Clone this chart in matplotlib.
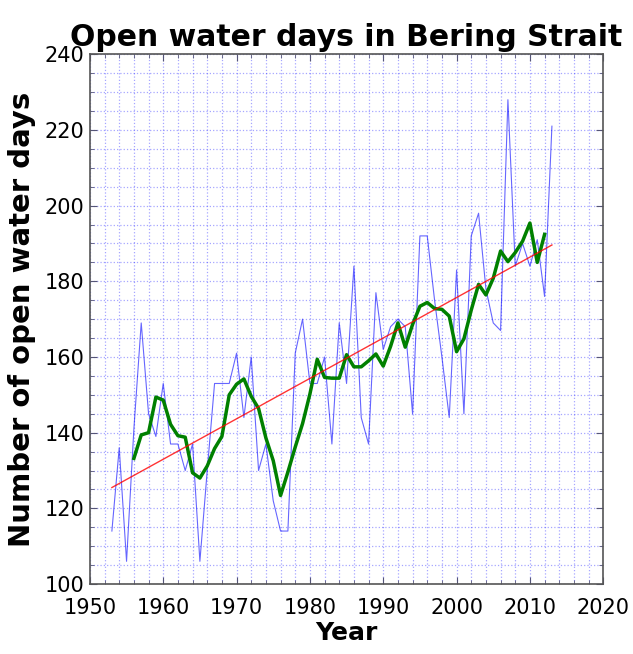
import matplotlib
matplotlib.use('Agg')
import matplotlib.pyplot as plt
from matplotlib.ticker import MultipleLocator

years = list(range(1953, 2014))
open_days = [114, 136, 106, 141, 169, 145, 139, 153, 137, 137,
             130, 137, 106, 130, 153, 153, 153, 161, 144, 160,
             130, 137, 122, 114, 114, 161, 170, 153, 153, 160,
             137, 169, 153, 184, 144, 137, 177, 162, 168, 170,
             168, 145, 192, 192, 175, 160, 144, 183, 145, 192,
             198, 178, 169, 167, 228, 184, 190, 184, 191, 176,
             221]

# smoothed curve
smooth_years = list(range(1956, 2013))
smooth_days = [133.2, 139.4, 140.0, 149.4, 148.6, 142.2, 139.2, 138.8, 129.4, 128.0,
               131.2, 135.8, 139.0, 150.0, 152.8, 154.2, 149.6, 146.4, 138.6, 132.6,
               123.4, 129.6, 136.2, 142.4, 150.2, 159.4, 154.6, 154.4, 154.4, 160.6,
               157.4, 157.4, 159.0, 160.8, 157.6, 162.8, 169.0, 162.6, 168.6, 173.4,
               174.4, 172.8, 172.6, 170.8, 161.4, 164.8, 172.4, 179.2, 176.4, 180.8,
               188.0, 185.2, 187.6, 190.6, 195.4, 185.0, 192.4]

trend_years = [1953, 2013]
trend_days = [125.5, 189.6]

fig = plt.figure(figsize=(6.33, 6.54), dpi=100)
ax = fig.add_axes([0.142, 0.107, 0.811, 0.81])

ax.plot(years, open_days, color='blue', lw=0.8, alpha=0.6)
ax.plot(smooth_years, smooth_days, color='green', lw=2.5)
ax.plot(trend_years, trend_days, color='red', lw=1, alpha=0.8)

ax.set_xlim(1950, 2020)
ax.set_ylim(100, 240)
ax.xaxis.set_major_locator(MultipleLocator(10))
ax.xaxis.set_minor_locator(MultipleLocator(2))
ax.yaxis.set_major_locator(MultipleLocator(20))
ax.yaxis.set_minor_locator(MultipleLocator(5))
ax.grid(True, which='both', color='blue', linestyle=':', lw=0.9, alpha=0.35)
ax.tick_params(which='both', direction='in', top=True, right=True, color='#555577')
ax.tick_params(which='major', length=5, labelsize=15)
ax.tick_params(axis='x', which='major', pad=10)
ax.tick_params(axis='y', which='major', pad=4)
ax.tick_params(which='minor', length=3)
for s in ax.spines.values():
    s.set_color('#555555')
    s.set_linewidth(1.2)

ax.set_title('Open water days in Bering Strait', fontsize=21.5, fontweight='bold', pad=6)
ax.set_xlabel('Year', fontsize=18, fontweight='bold', labelpad=2)
ax.set_ylabel('Number of open water days', fontsize=21, fontweight='bold', labelpad=6)

fig.savefig('out.png', dpi=100)
